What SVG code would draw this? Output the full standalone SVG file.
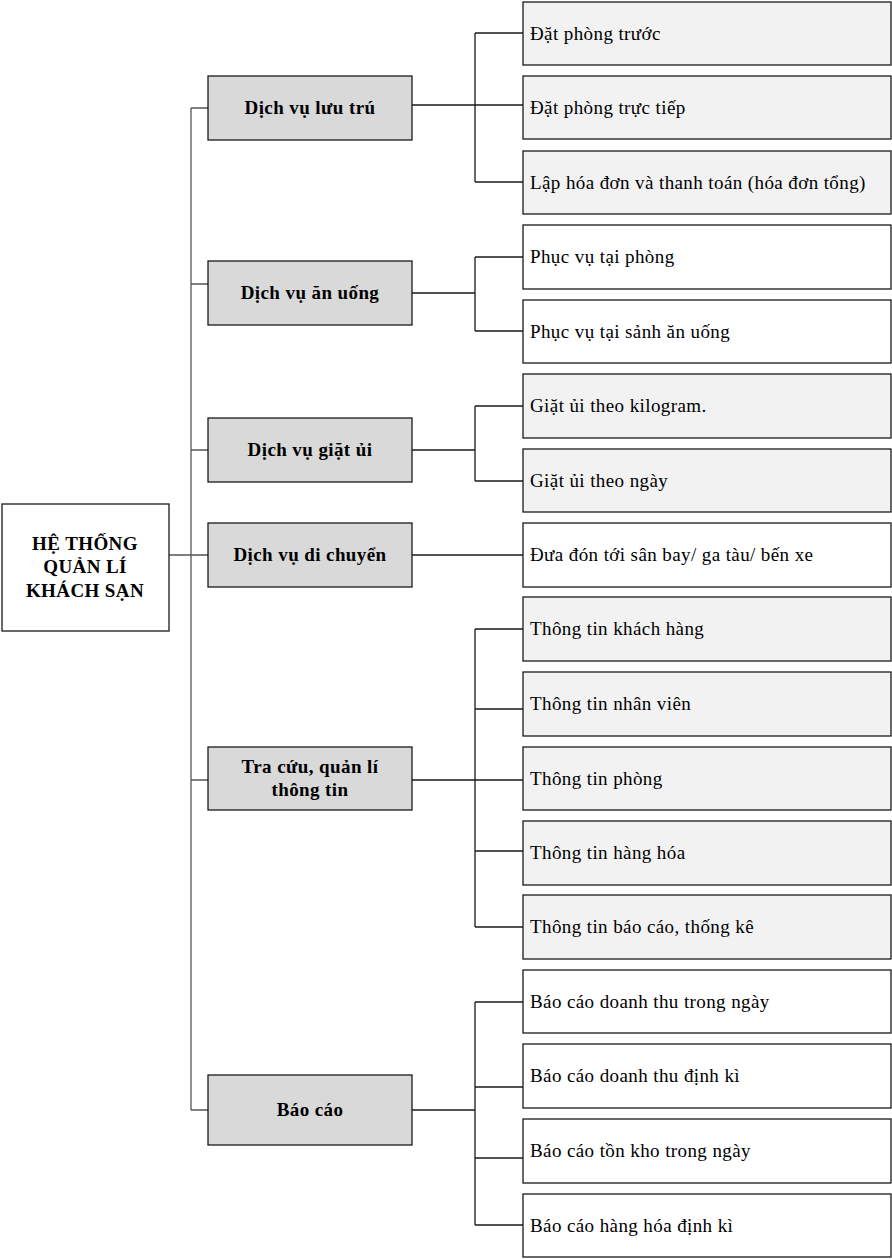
<svg xmlns="http://www.w3.org/2000/svg" width="892" height="1259" viewBox="0 0 892 1259">
<style>
.bx{stroke:#1a1a1a;stroke-width:1.3}
.main{fill:#d9d9d9}
.lg{fill:#f2f2f2}
.lw{fill:#ffffff}
.mt{font-family:"Liberation Serif","Times New Roman",serif;font-size:19px;font-weight:bold;letter-spacing:0.4px;fill:#000;text-anchor:middle}
.lt{font-family:"Liberation Serif","Times New Roman",serif;font-size:19px;letter-spacing:0.4px;fill:#000}
.cn{fill:none;stroke:#1a1a1a;stroke-width:1.3}
.tr{fill:none;stroke:#555;stroke-width:1.3}
</style>
<rect width="892" height="1259" fill="#fff"/>
<g id="connectors">
<path class="tr" d="M191,108V1110"/>
<path class="tr" d="M191,108H208M191,284H208M191,450H208M169,555H208M191,780H208M191,1110H208"/>
<path class="cn" d="M412,105H523M475,33V182M475,33H523M475,182H523"/>
<path class="cn" d="M412,293H475M475,257V331M475,257H523M475,331H523"/>
<path class="cn" d="M412,450H475M475,406V481M475,406H523M475,481H523"/>
<path class="cn" d="M412,555H523"/>
<path class="cn" d="M412,780H523M475,629V927M475,629H523M475,709H523M475,851H523M475,927H523"/>
<path class="cn" d="M412,1110H475M475,1002V1225M475,1002H523M475,1087H523M475,1158H523M475,1225H523"/>
</g>
<g id="root">
<rect class="bx lw" x="2" y="504" width="167" height="127"/>
<text class="mt" x="85" y="550">HỆ THỐNG</text>
<text class="mt" x="85" y="573">QUẢN LÍ</text>
<text class="mt" x="85" y="597">KHÁCH SẠN</text>
</g>
<g id="luutru"><rect class="bx main" x="208" y="76" width="204" height="64"/><text class="mt" x="310" y="114">Dịch vụ lưu trú</text></g>
<g id="anuong"><rect class="bx main" x="208" y="261" width="204" height="64"/><text class="mt" x="310" y="299">Dịch vụ ăn uống</text></g>
<g id="giatui"><rect class="bx main" x="208" y="418" width="204" height="64"/><text class="mt" x="310" y="456">Dịch vụ giặt ủi</text></g>
<g id="dichuyen"><rect class="bx main" x="208" y="523" width="204" height="64"/><text class="mt" x="310" y="561">Dịch vụ di chuyển</text></g>
<g id="tracuu"><rect class="bx main" x="208" y="747" width="204" height="63"/><text class="mt" x="310" y="773">Tra cứu, quản lí</text><text class="mt" x="310" y="796">thông tin</text></g>
<g id="baocao"><rect class="bx main" x="208" y="1075" width="204" height="70"/><text class="mt" x="310" y="1116">Báo cáo</text></g>
<g id="l1"><rect class="bx lg" x="523" y="2" width="368" height="63"/><text class="lt" x="530" y="40">Đặt phòng trước</text></g>
<g id="l2"><rect class="bx lg" x="523" y="76" width="368" height="63"/><text class="lt" x="530" y="114">Đặt phòng trực tiếp</text></g>
<g id="l3"><rect class="bx lg" x="523" y="151" width="368" height="63"/><text class="lt" x="530" y="189">Lập hóa đơn và thanh toán (hóa đơn tổng)</text></g>
<g id="l4"><rect class="bx lw" x="523" y="225" width="368" height="64"/><text class="lt" x="530" y="263">Phục vụ tại phòng</text></g>
<g id="l5"><rect class="bx lw" x="523" y="300" width="368" height="63"/><text class="lt" x="530" y="338">Phục vụ tại sảnh ăn uống</text></g>
<g id="l6"><rect class="bx lg" x="523" y="374" width="368" height="64"/><text class="lt" x="530" y="412">Giặt ủi theo kilogram.</text></g>
<g id="l7"><rect class="bx lg" x="523" y="449" width="368" height="63"/><text class="lt" x="530" y="487">Giặt ủi theo ngày</text></g>
<g id="l8"><rect class="bx lw" x="523" y="523" width="368" height="64"/><text class="lt" x="530" y="561">Đưa đón tới sân bay/ ga tàu/ bến xe</text></g>
<g id="l9"><rect class="bx lg" x="523" y="597" width="368" height="64"/><text class="lt" x="530" y="635">Thông tin khách hàng</text></g>
<g id="l10"><rect class="bx lg" x="523" y="672" width="368" height="64"/><text class="lt" x="530" y="710">Thông tin nhân viên</text></g>
<g id="l11"><rect class="bx lg" x="523" y="747" width="368" height="63"/><text class="lt" x="530" y="785">Thông tin phòng</text></g>
<g id="l12"><rect class="bx lg" x="523" y="821" width="368" height="64"/><text class="lt" x="530" y="859">Thông tin hàng hóa</text></g>
<g id="l13"><rect class="bx lg" x="523" y="895" width="368" height="64"/><text class="lt" x="530" y="933">Thông tin báo cáo, thống kê</text></g>
<g id="l14"><rect class="bx lw" x="523" y="970" width="368" height="63"/><text class="lt" x="530" y="1008">Báo cáo doanh thu trong ngày</text></g>
<g id="l15"><rect class="bx lw" x="523" y="1044" width="368" height="64"/><text class="lt" x="530" y="1082">Báo cáo doanh thu định kì</text></g>
<g id="l16"><rect class="bx lw" x="523" y="1119" width="368" height="64"/><text class="lt" x="530" y="1157">Báo cáo tồn kho trong ngày</text></g>
<g id="l17"><rect class="bx lw" x="523" y="1194" width="368" height="63"/><text class="lt" x="530" y="1232">Báo cáo hàng hóa định kì</text></g>
</svg>
